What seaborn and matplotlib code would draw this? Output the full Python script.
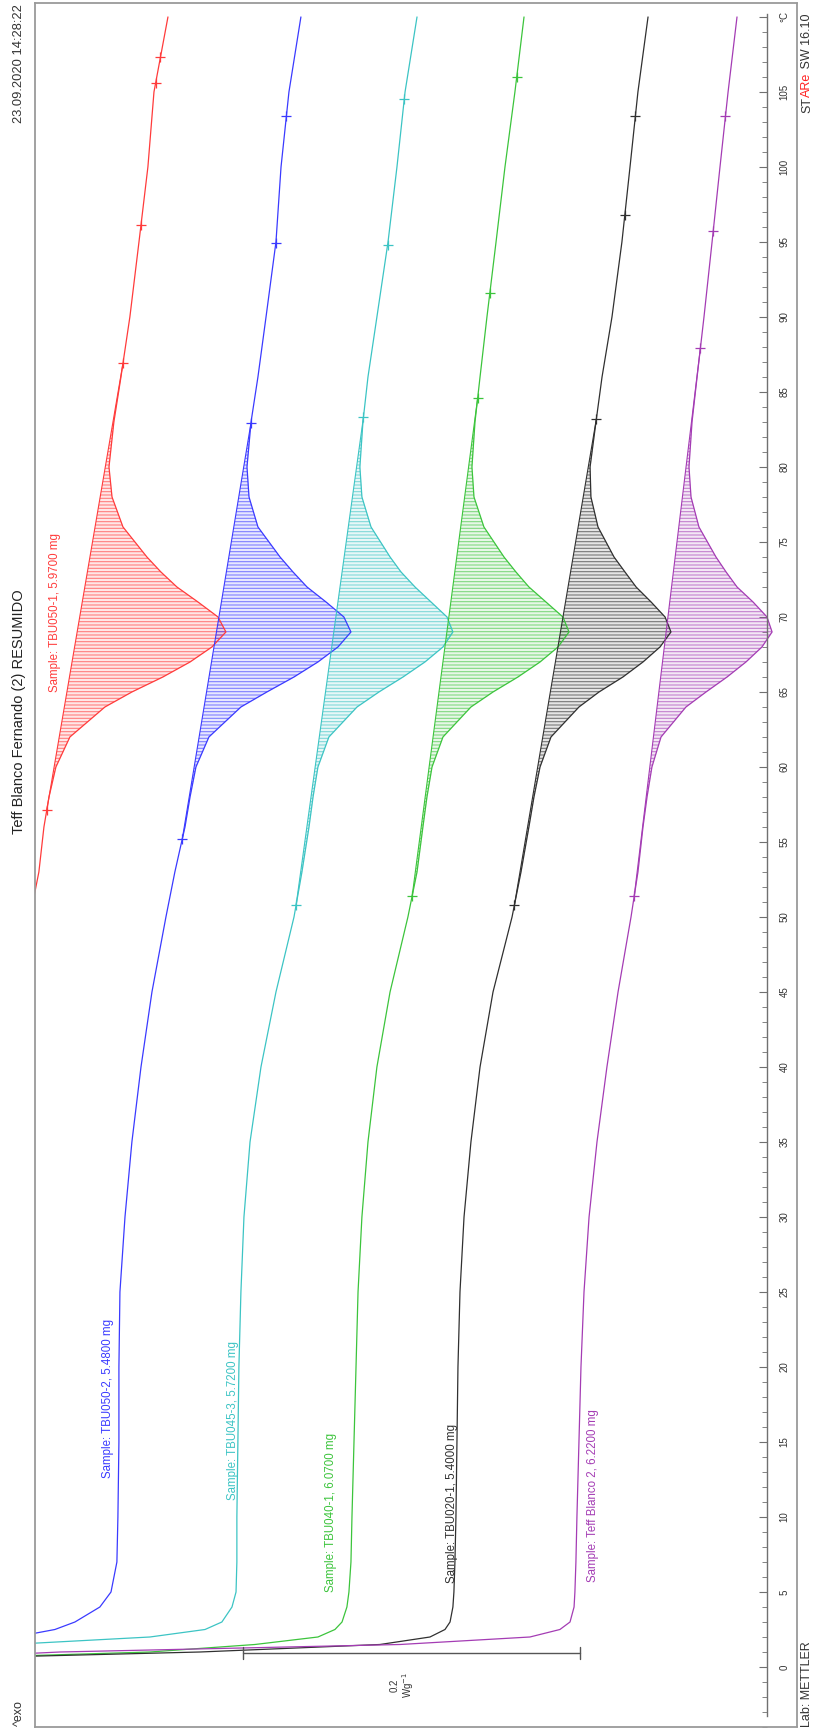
import numpy as np
import pandas as pd
import matplotlib
matplotlib.use("Agg")
import matplotlib.pyplot as plt
from matplotlib.ticker import MultipleLocator, FixedLocator, FixedFormatter
import seaborn as sns

sns.set_theme(style="white")
plt.rcParams['font.family'] = ['Liberation Sans', 'DejaVu Sans']
plt.rcParams['hatch.linewidth'] = 0.8

# Temperature grid (°C) shared by all DSC curves
temperature = [0.5, 1, 1.5, 2, 2.5, 3, 4, 5, 7, 10, 15, 20, 25, 30, 35, 40, 45, 50,
               53, 56, 58, 60, 62, 64, 65, 66, 67, 68, 69, 70, 71, 72, 73, 74, 76,
               78, 80, 83, 86, 90, 95, 100, 105, 110]

nan = np.nan
# Normalised heat flow (W/g), curves shifted for display
hf_tbu050_1 = [nan] * 17 + [0.4374,
               0.4321, 0.4291, 0.4261, 0.4220, 0.4137, 0.3929, 0.3769, 0.3585, 0.3424,
               0.3294, 0.3211, 0.3258, 0.3377, 0.3502, 0.3597, 0.3680, 0.3822, 0.3887,
               0.3905, 0.3876, 0.3834, 0.3781, 0.3727, 0.3674, 0.3638, 0.3555]
hf_tbu050_2 = [nan, nan, nan, 0.4463, 0.4226, 0.4107, 0.3959, 0.3893, 0.3858, 0.3852,
               0.3846, 0.3846, 0.3840, 0.3810, 0.3769, 0.3715, 0.3650, 0.3567,
               0.3514, 0.3454, 0.3424, 0.3389, 0.3312, 0.3122, 0.2968, 0.2807, 0.2665,
               0.2546, 0.2469, 0.2511, 0.2617, 0.2730, 0.2813, 0.2890, 0.3021, 0.3074,
               0.3086, 0.3062, 0.3021, 0.2973, 0.2914, 0.2884, 0.2837, 0.2766]
hf_tbu045_3 = [nan, nan, 0.4493, 0.3662, 0.3335, 0.3235, 0.3175, 0.3151, 0.3146, 0.3146,
               0.3140, 0.3134, 0.3122, 0.3104, 0.3068, 0.3003, 0.2914, 0.2807,
               0.2760, 0.2718, 0.2694, 0.2665, 0.2600, 0.2433, 0.2303, 0.2160, 0.2030,
               0.1923, 0.1864, 0.1899, 0.1994, 0.2089, 0.2172, 0.2237, 0.2350, 0.2404,
               0.2416, 0.2398, 0.2368, 0.2315, 0.2249, 0.2196, 0.2148, 0.2077]
hf_tbu040_1 = [0.5146, 0.3662, 0.3039, 0.2665, 0.2564, 0.2522, 0.2493, 0.2481, 0.2469,
               0.2463, 0.2451, 0.2439, 0.2427, 0.2404, 0.2368, 0.2315, 0.2237, 0.2131,
               0.2077, 0.2042, 0.2018, 0.1988, 0.1923, 0.1757, 0.1626, 0.1478, 0.1347,
               0.1240, 0.1175, 0.1211, 0.1312, 0.1413, 0.1490, 0.1561, 0.1680, 0.1739,
               0.1751, 0.1733, 0.1703, 0.1662, 0.1608, 0.1555, 0.1496, 0.1442]
hf_tbu020_1 = [0.5146, 0.3365, 0.2297, 0.2000, 0.1911, 0.1881, 0.1864, 0.1858, 0.1852,
               0.1846, 0.1840, 0.1834, 0.1822, 0.1798, 0.1757, 0.1703, 0.1626, 0.1513,
               0.1460, 0.1413, 0.1383, 0.1347, 0.1282, 0.1116, 0.0997, 0.0855, 0.0736,
               0.0635, 0.0570, 0.0605, 0.0688, 0.0777, 0.0843, 0.0908, 0.1003, 0.1045,
               0.1050, 0.1015, 0.0979, 0.0920, 0.0861, 0.0813, 0.0766, 0.0706]
hf_teff_2 = [0.5146, 0.4196, 0.2178, 0.1407, 0.1229, 0.1169, 0.1145, 0.1140, 0.1134,
             0.1128, 0.1116, 0.1104, 0.1086, 0.1056, 0.1009, 0.0950, 0.0884, 0.0807,
             0.0766, 0.0736, 0.0712, 0.0683, 0.0629, 0.0481, 0.0362, 0.0237, 0.0125,
             0.0030, -0.0030, 0.0000, 0.0083, 0.0178, 0.0243, 0.0303, 0.0404, 0.0451,
             0.0463, 0.0445, 0.0415, 0.0374, 0.0326, 0.0279, 0.0231, 0.0178]

sample_names = ["Sample: TBU050-1, 5.9700 mg", "Sample: TBU050-2, 5.4800 mg",
                "Sample: TBU045-3, 5.7200 mg", "Sample: TBU040-1, 6.0700 mg",
                "Sample: TBU020-1, 5.4000 mg", "Sample: Teff Blanco 2, 6.2200 mg"]
series = [hf_tbu050_1, hf_tbu050_2, hf_tbu045_3, hf_tbu040_1, hf_tbu020_1, hf_teff_2]
colors = ["#ff3b3b", "#3a3aff", "#3cc4c4", "#3cc43c", "#303030", "#a43cb4"]

# Peak integration limits (°C) and further evaluation marks
peak_limits = [(57.1, 86.9), (55.2, 82.9), (50.8, 83.3), (51.4, 84.6), (50.8, 83.2), (51.4, 87.9)]
extra_marks = [(96.1, 105.6, 107.3), (94.9, 103.4), (94.8, 104.5), (91.6, 106.0),
               (96.8, 103.4), (95.7, 103.4)]

temp_ticks = list(range(0, 111, 5))
temp_labels = [str(t) for t in temp_ticks[:-1]] + ["°C"]
scale_bar = 0.2  # W/g

W, H = 818, 1732
fig = plt.figure(figsize=(W / 100, H / 100), dpi=100)
ax = fig.add_axes([35 / W, 5 / H, 762 / W, 1724 / H])
ax.set_xlim(0.4344, -0.0178)
ax.set_ylim(-4.0, 110.93)

for name, vals, col, (t1, t2), marks in zip(sample_names, series, colors, peak_limits, extra_marks):
    d = pd.DataFrame({"T": temperature, "hf": vals}).dropna()
    sns.lineplot(data=d, x="hf", y="T", orient="y", sort=False, estimator=None,
                 color=col, lw=0.9, ax=ax)
    tt = d["T"].to_numpy()
    hh = d["hf"].to_numpy()
    h1, h2 = np.interp(t1, tt, hh), np.interp(t2, tt, hh)
    inside = (tt > t1) & (tt < t2)
    seg_t = np.concatenate([[t1], tt[inside], [t2]])
    seg_h = np.concatenate([[h1], hh[inside], [h2]])
    base = np.interp(seg_t, [t1, t2], [h1, h2])
    ax.fill_betweenx(seg_t, base, seg_h, facecolor=col, alpha=0.12, linewidth=0)
    ax.fill_betweenx(seg_t, base, seg_h, facecolor="none", edgecolor=col,
                     hatch="-----", linewidth=0, alpha=0.6)
    ax.plot([h1, h2], [t1, t2], color=col, lw=0.8)
    mt = [t1, t2] + list(marks)
    mh = np.interp(mt, tt, hh)
    ax.plot(mh, mt, ls="none", marker="+", ms=7, mew=0.9, color=col)

# sample labels
label_pos = [(0.4226, 70.3), (0.3911, 17.9), (0.3169, 16.4), (0.2588, 10.3),
             (0.1870, 10.9), (0.1033, 11.4)]
for name, col, (lx, ly) in zip(sample_names, colors, label_pos):
    ax.text(lx, ly, name, rotation=90, ha="center", va="center", color=col, fontsize=8.3)

# scale bar
sb_left = 0.311
ax.plot([sb_left, sb_left - scale_bar], [0.93, 0.93], color="#555555", lw=1.0)
for xe in (sb_left, sb_left - scale_bar):
    ax.plot([xe, xe], [0.55, 1.31], color="#555555", lw=1.0)
ax.text(sb_left - scale_bar / 2 + 0.005, -1.2, "0.2\nWg$^{-1}$", rotation=90, ha="center",
        va="center", fontsize=7, color="#333333", linespacing=1.0)

# frame and temperature axis
for s in ("left", "top", "bottom"):
    ax.spines[s].set_color("#9a9a9a")
    ax.spines[s].set_linewidth(1.3)
ax.spines["right"].set_position(("data", 0.0))
ax.spines["right"].set_bounds(-3.3, 110.2)
ax.spines["right"].set_color("#707070")
ax.spines["right"].set_linewidth(1.0)
ax.plot([1, 1], [0, 1], transform=ax.transAxes, color="#9a9a9a", lw=1.3, clip_on=False)
ax.yaxis.set_ticks_position("right")
ax.yaxis.set_major_locator(FixedLocator(temp_ticks))
ax.yaxis.set_major_formatter(FixedFormatter(temp_labels))
ax.yaxis.set_minor_locator(MultipleLocator(1))
ax.tick_params(axis="y", which="major", direction="in", length=6, width=0.8,
               color="#707070", labelsize=7, pad=9, labelrotation=90, labelcolor="#333333")
ax.tick_params(axis="y", which="minor", direction="in", length=3.5, width=0.6, color="#707070")
for lab in ax.get_yticklabels():
    lab.set_va("center")
    lab.set_ha("left")
ax.set_xticks([])
ax.set_xlabel("")
ax.set_ylabel("")

# page header and footer
fig.text(19 / W, 1 - 64 / H, "23.09.2020 14:28:22", rotation=90, ha="center", va="center",
         fontsize=9.3, color="#333333")
fig.text(19 / W, 1 - 712 / H, "Teff Blanco Fernando (2) RESUMIDO", rotation=90,
         ha="center", va="center", fontsize=10.5, color="#222222")
fig.text(19 / W, 1 - 1713 / H, "^exo", rotation=90, ha="center", va="center",
         fontsize=9, color="#333333")
fig.text(807 / W, 1 - 1684 / H, "Lab: METTLER", rotation=90, ha="center", va="center",
         fontsize=9, color="#333333")
# software stamp, logo part in red
stamp = [("ST", "#333333", 113), ("ARe", "#ff2020", 97), (" SW 16.10", "#333333", 72.5)]
for txt, col, ypix in stamp:
    fig.text(807 / W, 1 - ypix / H, txt, rotation=90, ha="center", va="bottom",
             fontsize=9, color=col)

fig.savefig("out.png", dpi=100)
